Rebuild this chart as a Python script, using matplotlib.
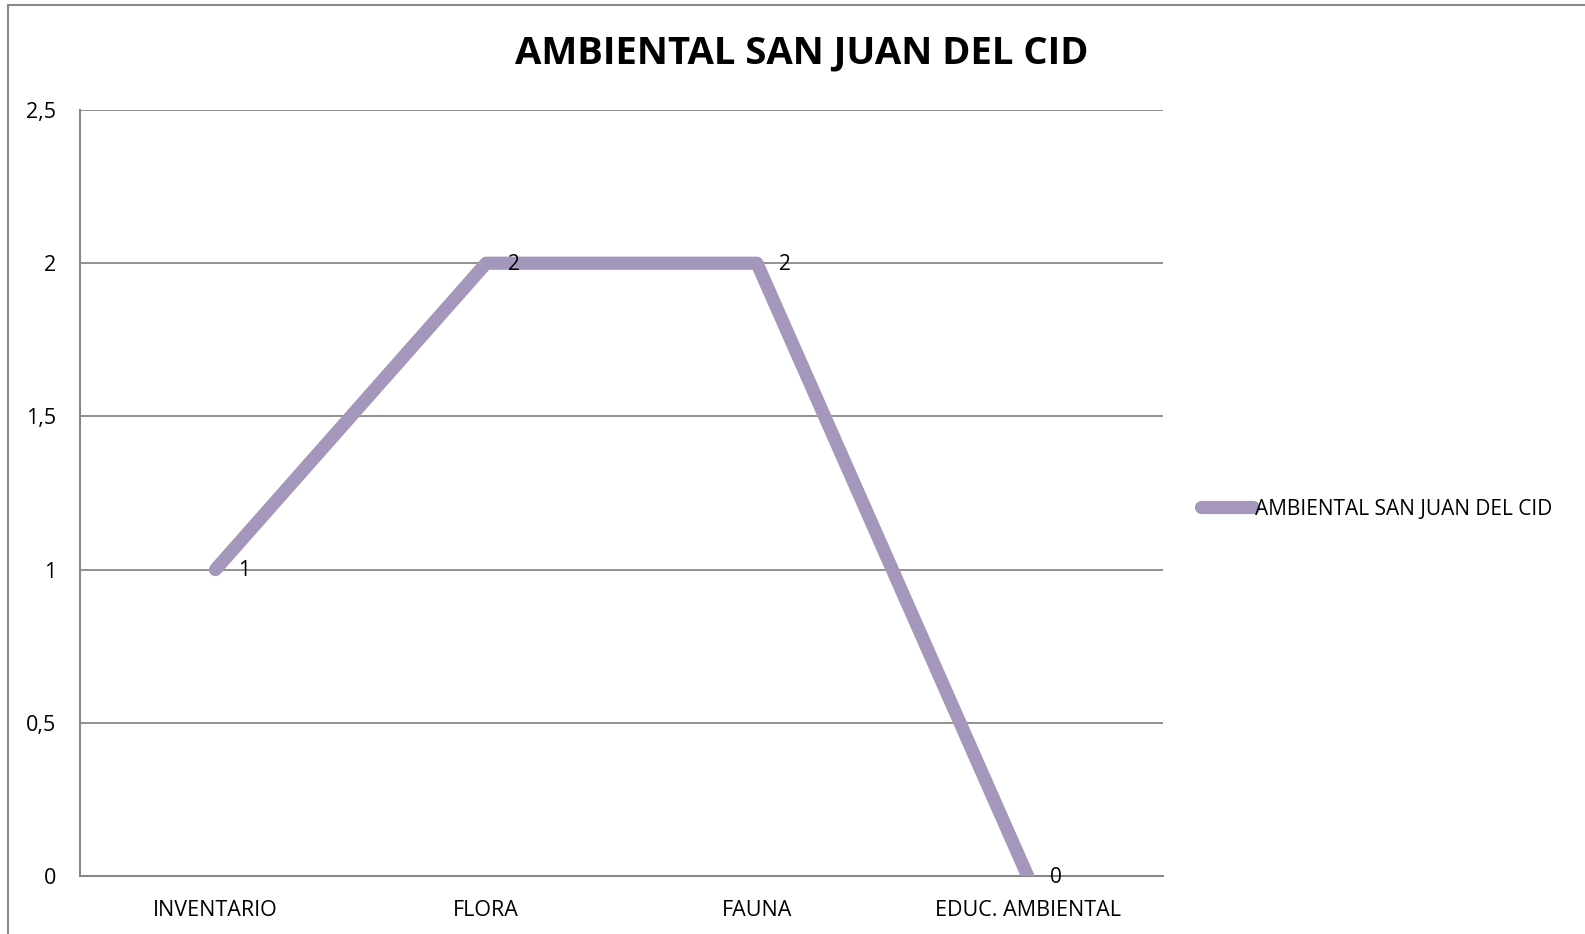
import matplotlib.pyplot as plt
from matplotlib.patches import Rectangle

categories = ['INVENTARIO', 'FLORA', 'FAUNA', 'EDUC. AMBIENTAL']
values = [1, 2, 2, 0]
series_name = 'AMBIENTAL SAN JUAN DEL CID'
yticks = [0, 0.5, 1, 1.5, 2, 2.5]
ytick_labels = ['0', '0,5', '1', '1,5', '2', '2,5']

plt.rcParams['font.family'] = ['Open Sans', 'DejaVu Sans']

fig = plt.figure(figsize=(15.85, 9.34), dpi=100)
ax = fig.add_axes([0.0505, 0.0621, 0.6833, 0.8201])

line_color = '#A497BB'
grid_color = '#888888'

x = list(range(len(categories)))
ax.plot(x, values, color=line_color, linewidth=9.5, solid_capstyle='round',
        solid_joinstyle='round', label=series_name, zorder=3)

for xi, v in zip(x, values):
    ax.annotate(str(v), (xi, v), xytext=(16, -1), textcoords='offset points',
                va='center', ha='left', fontsize=15, zorder=4)

ax.set_xlim(-0.5, len(categories) - 0.5)
ax.set_ylim(0, 2.5)
ax.set_xticks(x)
ax.set_xticklabels(categories, fontsize=15.5)
ax.set_yticks(yticks)
ax.set_yticklabels(ytick_labels, fontsize=15.5)
ax.tick_params(axis='x', length=0, pad=17)
ax.tick_params(axis='y', length=0, pad=17)

ax.yaxis.grid(True, color=grid_color, linewidth=1.3)
ax.set_axisbelow(True)
for s in ['top', 'right']:
    ax.spines[s].set_visible(False)
for s in ['left', 'bottom']:
    ax.spines[s].set_color(grid_color)
    ax.spines[s].set_linewidth(1.5)

fig.text(0.506, 0.943, 'AMBIENTAL SAN JUAN DEL CID', ha='center', va='center',
         fontsize=27.5, fontweight='bold')

fig.legend(loc='center left', bbox_to_anchor=(0.746, 0.455), frameon=False,
           fontsize=15, handlelength=2.5, handletextpad=0.1)

fig.patches.append(Rectangle((0.005, -0.01), 1.1, 1.005, transform=fig.transFigure,
                             fill=False, edgecolor='#888888', linewidth=1.5))

fig.savefig('out.png', dpi=100)
